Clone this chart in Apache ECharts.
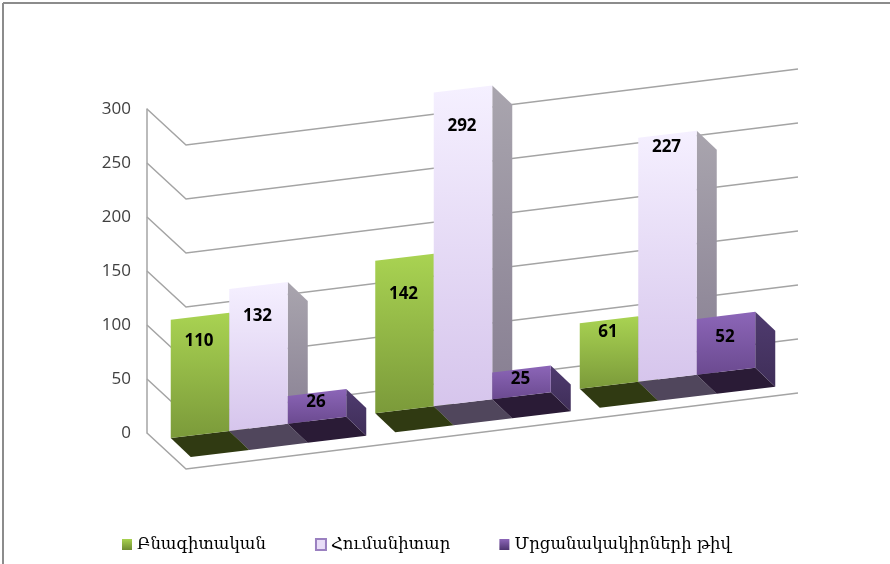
<!DOCTYPE html>
<html>
<head>
<meta charset="utf-8">
<style>
html,body{margin:0;padding:0;background:#fff}
#chart{width:890px;height:564px}
</style>
<script src="https://cdn.jsdelivr.net/npm/echarts@6/dist/echarts.min.js"></script>
</head>
<body>
<div id="chart"></div>
<script>
var groups = ['1', '2', '3'];
var yTicks = [0, 50, 100, 150, 200, 250, 300];
var nameNatural = 'Բնագիտական';
var nameHuman = 'Հումանիտար';
var nameWinners = 'Մրցանակակիրների թիվ';
var natural = [110, 142, 61];
var human = [132, 292, 227];
var winners = [26, 25, 52];
// how far each value label sits under the top edge of its bar
var dropNatural = [25, 37, 12];
var dropHuman = [31, 37, 13];
var dropWinners = [10, 10, 22];

var FRONT_SLOPE = 0.12;
var WALL_SLOPE = 0.124;
var DEPTH_X = 20, DEPTH_Y = 19;
var WALL_X = 39, WALL_Y = 36;
var BAR_W = 58.5;

function grad(a, b) {
    return new echarts.graphic.LinearGradient(0, 0, 0, 1, [
        {offset: 0, color: a}, {offset: 1, color: b}
    ]);
}

var myChart = echarts.init(document.getElementById('chart'));

// back wall + side wall lines
function renderWall(params, api) {
    var p = api.coord([0, api.value(0)]);
    var corner = [p[0] + WALL_X, p[1] + WALL_Y];
    var end = api.coord([1, api.value(0)]);
    var endPt = [end[0], corner[1] - WALL_SLOPE * (end[0] - corner[0])];
    return {
        type: 'polyline',
        shape: {points: [p, corner, endPt]},
        style: {fill: 'none', stroke: '#a4a4a4', lineWidth: 1.5}
    };
}

function makeBar(pos, drops, colors) {
    return function (params, api) {
        var i = api.value(0);
        var c = api.coord([i, 0]);
        var top = api.coord([i, api.value(1)]);
        var x1 = c[0] + (pos - 1.5) * BAR_W;
        var x2 = x1 + BAR_W;
        // the front plane runs uphill to the right
        var gridLeft = 170;
        var skew = function (x, y) { return [x, y - FRONT_SLOPE * (x - gridLeft)]; };
        var bl = skew(x1, c[1]), br = skew(x2, c[1]);
        var tl = skew(x1, top[1]), tr = skew(x2, top[1]);
        var shift = function (p) { return [p[0] + DEPTH_X, p[1] + DEPTH_Y]; };
        var mid = (x1 + x2) / 2;
        return {
            type: 'group',
            children: [
                {type: 'polygon', shape: {points: [bl, br, shift(br), shift(bl)]}, style: {fill: colors.bottom}},
                {type: 'polygon', shape: {points: [tr, shift(tr), shift(br), br]}, style: {fill: grad(colors.side[0], colors.side[1])}},
                {type: 'polygon', shape: {points: [tl, tr, br, bl]}, style: {fill: grad(colors.front[0], colors.front[1])}},
                {type: 'text', style: {
                    x: mid - 1, y: skew(mid, top[1])[1] + drops[i],
                    text: String(api.value(1)), align: 'center', verticalAlign: 'middle',
                    font: 'bold 17px "Open Sans"', fill: '#000'
                }}
            ]
        };
    };
}

function toPairs(arr) {
    return arr.map(function (v, i) { return [i, v]; });
}

function barSeries(name, values, pos, drops, colors) {
    return {
        type: 'custom', name: name, xAxisIndex: 1, yAxisIndex: 1, z: 3,
        clip: false, data: toPairs(values),
        renderItem: makeBar(pos, drops, colors),
        encode: {x: 0, y: 1}
    };
}

myChart.setOption({
    animation: false,
    backgroundColor: '#fff',
    graphic: [
        {type: 'line', shape: {x1: 3, y1: 3, x2: 890, y2: 3}, style: {stroke: '#8c8c8c', lineWidth: 2}},
        {type: 'line', shape: {x1: 3, y1: 3, x2: 3, y2: 564}, style: {stroke: '#8c8c8c', lineWidth: 2}}
    ],
    grid: [
        {left: 147, width: 651, top: 109, height: 324},
        {left: 156.25, width: 613.5, top: 115.5, height: 322.5}
    ],
    xAxis: [
        {type: 'value', gridIndex: 0, min: 0, max: 1, show: false},
        {type: 'category', gridIndex: 1, data: groups, show: false}
    ],
    yAxis: [
        {
            type: 'value', gridIndex: 0, min: 0, max: 300, interval: 50,
            axisLine: {show: true, lineStyle: {color: '#a4a4a4', width: 1.5}},
            axisTick: {show: false},
            splitLine: {show: false},
            axisLabel: {color: '#404040', fontSize: 17, fontFamily: 'Open Sans', margin: 16, padding: [2, 0, 0, 0]}
        },
        {type: 'value', gridIndex: 1, min: 0, max: 300, show: false}
    ],
    legend: {
        left: 117, top: 531, itemGap: 49, itemWidth: 10, itemHeight: 11,
        textStyle: {color: '#000', fontSize: 16.5, fontFamily: 'DejaVu Serif'},
        data: [
            {name: nameNatural, icon: 'rect', itemStyle: {color: grad('#a8d24f', '#6f8c32')}},
            {name: nameHuman, icon: 'rect', itemStyle: {color: '#e8ddf7', borderColor: '#9a80c0', borderWidth: 2}},
            {name: nameWinners, icon: 'rect', itemStyle: {color: grad('#8c66b8', '#4e3570')}}
        ]
    },
    series: [
        {
            type: 'custom', name: 'walls', xAxisIndex: 0, yAxisIndex: 0, z: 1,
            clip: false, data: yTicks.map(function (v) { return [v]; }),
            renderItem: renderWall, encode: {y: 0}
        },
        barSeries(nameNatural, natural, 0, dropNatural, {
            front: ['#a9d352', '#7b9a3a'], side: ['#5f7a2c', '#4e6522'], bottom: '#303a12'
        }),
        barSeries(nameHuman, human, 1, dropHuman, {
            front: ['#f5f0ff', '#d6c5ec'], side: ['#a9a5ae', '#857c90'], bottom: '#50465c'
        }),
        barSeries(nameWinners, winners, 2, dropWinners, {
            front: ['#8c66b8', '#6b4a90'], side: ['#4f3b6f', '#3f2e58'], bottom: '#2a1b36'
        })
    ]
});
</script>
</body>
</html>
